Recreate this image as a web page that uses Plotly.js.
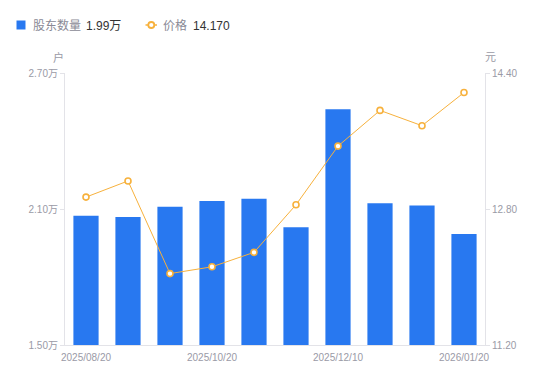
<!DOCTYPE html>
<html>
<head>
<meta charset="utf-8">
<script src="https://cdn.plot.ly/plotly-3.0.1.min.js"></script>
<style>html,body{margin:0;padding:0;background:#fff}#chart{width:550px;height:381px}</style>
</head>
<body>
<div id="chart"></div>
<script>
const dates = ["2025/08/20","2025/08/31","2025/09/30","2025/10/20","2025/10/31","2025/11/20","2025/12/10","2025/12/31","2026/01/10","2026/01/20"];
const holders = [2.07, 2.065, 2.11, 2.135, 2.145, 2.02, 2.54, 2.125, 2.115, 1.99];
const prices = [12.94, 13.13, 12.04, 12.12, 12.29, 12.85, 13.54, 13.96, 13.78, 14.17];
const tickDates = ["2025/08/20","2025/10/20","2025/12/10","2026/01/20"];
const leftTicks = [1.5, 2.1, 2.7];
const leftTickText = ["1.50万","2.10万","2.70万"];
const rightTicks = [11.2, 12.8, 14.4];
const rightTickText = ["11.20","12.80","14.40"];
const legendHolders = "1.99万";
const legendPrice = "14.170";

const FONT = "Liberation Sans, Noto Sans CJK SC, sans-serif";
const BLUE = "#2878f0", ORANGE = "#f7b13c";
const W = 550, H = 381, ML = 65, MR = 65, MT = 73, MB = 36;
const PW = W - ML - MR, PH = H - MT - MB;
const px = x => (x - ML) / PW;
const py = y => (H - MB - y) / PH;

const traces = [
  {type: "bar", x: dates, y: holders, yaxis: "y", name: "股东数量",
   marker: {color: BLUE}, width: 0.6},
  {type: "scatter", mode: "lines+markers", x: dates, y: prices, yaxis: "y2", name: "价格",
   line: {color: ORANGE, width: 1},
   marker: {symbol: "circle", size: 6, color: "#fff", line: {color: ORANGE, width: 1.6}}}
];
const ann = (text, x, y, opts) => Object.assign({text, xref: "paper", yref: "paper", x: px(x), y: py(y),
  xanchor: "left", yanchor: "middle", showarrow: false,
  font: {size: 12, color: "#8a8a96", family: FONT}}, opts || {});
const layout = {
  width: W, height: H,
  margin: {l: ML, r: MR, t: MT, b: MB},
  paper_bgcolor: "#fff", plot_bgcolor: "#fff",
  font: {family: FONT, size: 10, color: "#9a9aa6"},
  showlegend: false,
  xaxis: {type: "category", range: [-0.5, 9.5], tickmode: "array", tickvals: tickDates, ticktext: tickDates,
    showline: true, linecolor: "#e3e3e8", linewidth: 1, ticks: "", showgrid: false, ticklabelstandoff: 3,
    tickfont: {size: 10, color: "#9a9aa6"}, automargin: false},
  yaxis: {range: [1.5, 2.7], tickvals: leftTicks, ticktext: leftTickText,
    showline: true, linecolor: "#e3e3e8", linewidth: 1, ticks: "outside", ticklen: 4, tickcolor: "#e3e3e8",
    showgrid: false, zeroline: false, tickfont: {size: 10, color: "#9a9aa6"}, automargin: false},
  yaxis2: {range: [11.2, 14.4], tickvals: rightTicks, ticktext: rightTickText, overlaying: "y", side: "right",
    showline: true, linecolor: "#e3e3e8", linewidth: 1, ticks: "outside", ticklen: 4, tickcolor: "#e3e3e8",
    showgrid: false, zeroline: false, tickfont: {size: 10, color: "#9a9aa6"}, automargin: false},
  shapes: [
    {type: "rect", xref: "paper", yref: "paper", x0: px(16.5), x1: px(25.5), y0: py(29.5), y1: py(20.5),
     fillcolor: BLUE, line: {width: 0}},
    {type: "line", xref: "paper", yref: "paper", x0: px(145.5), x1: px(157), y0: py(25), y1: py(25),
     line: {color: ORANGE, width: 1.5}},
    {type: "circle", xref: "paper", yref: "paper", x0: px(148.3), x1: px(154.3), y0: py(28), y1: py(22),
     fillcolor: "#fff", line: {color: ORANGE, width: 1.8}}
  ],
  annotations: [
    ann("股东数量", 30.5, 25.5),
    ann(legendHolders, 84, 25.5, {font: {size: 12, color: "#333", family: FONT}}),
    ann("价格", 160.5, 25.5),
    ann(legendPrice, 190.5, 25.5, {font: {size: 12, color: "#333", family: FONT}}),
    ann("户", 58, 57, {xanchor: "center", font: {size: 11, color: "#9a9aa6", family: FONT}}),
    ann("元", 490, 57, {xanchor: "center", font: {size: 11, color: "#9a9aa6", family: FONT}})
  ]
};
Plotly.newPlot("chart", traces, layout, {staticPlot: true, displayModeBar: false});
</script>
</body>
</html>
